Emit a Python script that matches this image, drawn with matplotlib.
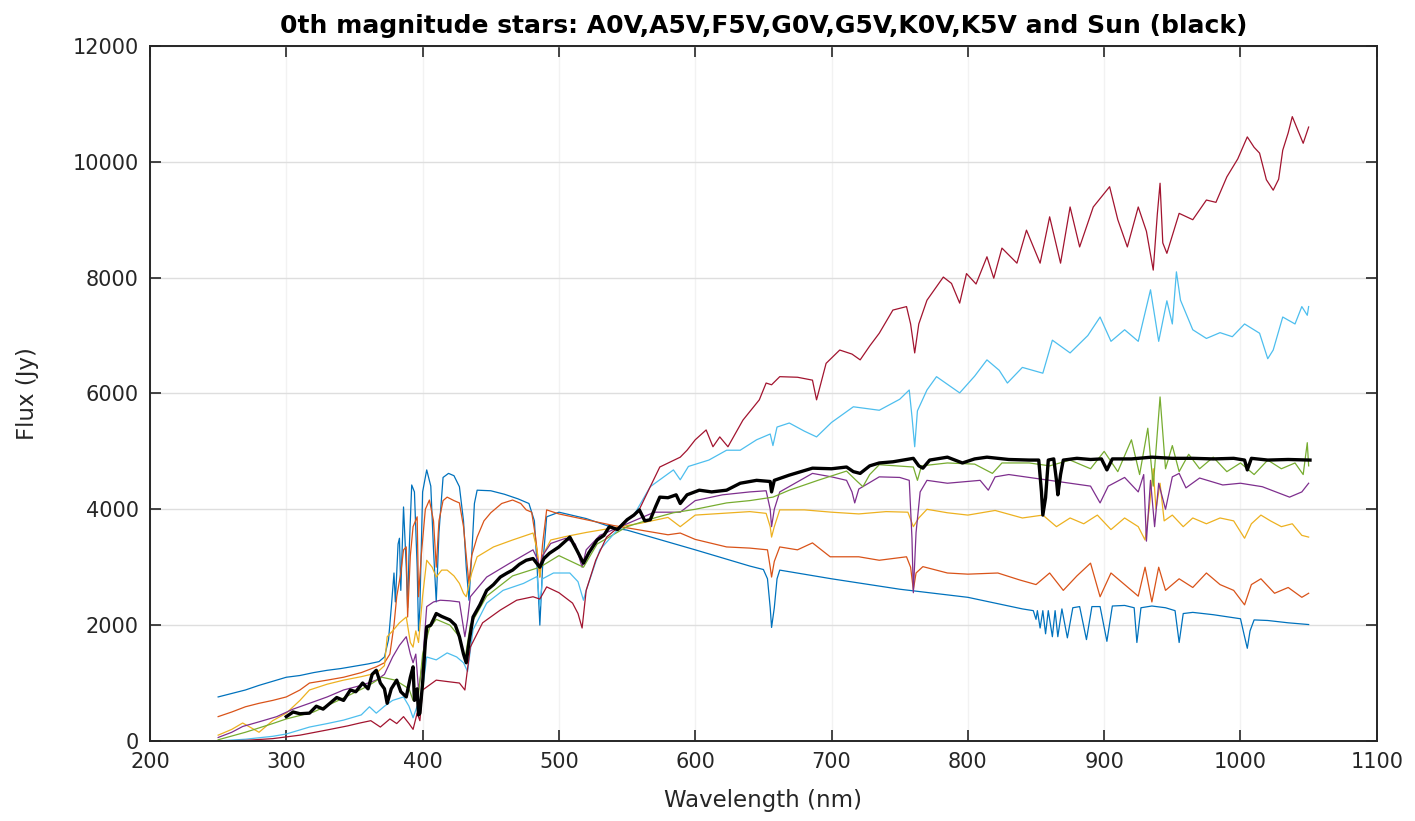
"""
0th magnitude stellar spectra (A0V ... K5V) compared with the Sun
"""

import matplotlib
matplotlib.use('Agg')
import matplotlib.pyplot as plt

plt.rcParams['font.family'] = ['DejaVu Sans']

# ---- data (wavelength nm, flux Jy) ----
a0v_wl = [250, 260, 270, 280, 290, 300, 310, 320, 330, 340, 350, 360, 368, 372, 375, 377, 379, 380, 382, 383,
          384, 386, 388, 389, 390, 392, 394, 396, 397, 398, 400, 403, 406, 408, 410, 412, 415, 419, 423, 427,
          430, 432, 434, 436, 438, 440, 450, 460, 470, 478, 482, 484, 486, 488, 491, 500, 520, 540, 550, 600,
          640, 650, 653, 655, 656, 658, 660, 662, 700, 750, 800, 840, 848, 850, 851, 853, 855, 857, 859, 862,
          864, 866, 869, 873, 877, 882, 887, 891, 897, 902, 906, 915, 922, 924, 927, 935, 945, 952, 955, 958,
          965, 980, 1000, 1003, 1005, 1007, 1010, 1020, 1035, 1050]
a0v_flux = [760, 820, 880, 960, 1030, 1100, 1130, 1180, 1220, 1250, 1290, 1330, 1370, 1450, 1750, 2300, 2900, 2400, 3400, 3500,
            2600, 4040, 3000, 2300, 3200, 4420, 4300, 3000, 1900, 2300, 4300, 4680, 4400, 3300, 2400, 3600, 4550, 4620, 4580, 4390,
            3800, 3000, 2430, 3200, 4100, 4330, 4320, 4260, 4180, 4100, 3800, 3000, 2000, 3000, 3870, 3950, 3840, 3680, 3640, 3300,
            3020, 2960, 2800, 2300, 1960, 2300, 2800, 2950, 2800, 2620, 2480, 2280, 2250, 2100, 2250, 1950, 2250, 1850, 2250, 1800,
            2250, 1800, 2280, 1780, 2300, 2320, 1750, 2320, 2320, 1720, 2330, 2340, 2300, 1700, 2300, 2330, 2300, 2250, 1700, 2200,
            2220, 2180, 2110, 1800, 1600, 1900, 2090, 2080, 2040, 2010]

a5v_wl = [250, 260, 270, 280, 290, 300, 310, 317, 330, 342, 355, 366, 372, 376, 379, 381, 384, 386, 388, 389,
          391, 393, 396, 397, 399, 402, 405, 408, 410, 412, 415, 418, 423, 427, 430, 432, 434, 436, 440, 445,
          450, 458, 466, 472, 476, 480, 483, 486, 488, 491, 500, 520, 540, 560, 580, 589, 600, 623, 640, 653,
          655, 656, 658, 662, 675, 686, 699, 720, 735, 755, 758, 760, 762, 767, 785, 800, 822, 838, 850, 860,
          870, 880, 890, 897, 905, 915, 925, 930, 935, 940, 945, 955, 965, 975, 985, 995, 1003, 1008, 1015, 1025,
          1035, 1045, 1050]
a5v_flux = [420, 500, 590, 650, 700, 760, 880, 1000, 1050, 1100, 1180, 1280, 1350, 1500, 2000, 2490, 2900, 3300, 3350, 2140,
            3200, 3700, 3870, 2490, 3200, 4000, 4160, 3800, 3000, 3800, 4150, 4210, 4150, 4110, 3700, 3200, 2720, 3200, 3520, 3800,
            3940, 4100, 4160, 4100, 3990, 3950, 3500, 2830, 3400, 3990, 3920, 3820, 3720, 3640, 3560, 3590, 3480, 3350, 3330, 3300,
            3000, 2830, 3100, 3350, 3300, 3420, 3180, 3180, 3120, 3180, 3000, 2610, 2900, 3010, 2900, 2880, 2900, 2780, 2700, 2900,
            2600, 2850, 3070, 2490, 2900, 2700, 2500, 3000, 2400, 3000, 2600, 2800, 2650, 2900, 2700, 2600, 2350, 2700, 2800, 2550,
            2650, 2480, 2550]

f5v_wl = [250, 260, 268, 280, 290, 300, 310, 317, 330, 342, 355, 366, 372, 374, 378, 383, 388, 391, 393, 395,
          397, 400, 403, 407, 410, 414, 418, 423, 427, 430, 432, 436, 440, 452, 466, 481, 484, 486, 488, 494,
          505, 520, 540, 560, 580, 589, 600, 620, 640, 652, 655, 656, 658, 662, 680, 700, 720, 740, 756, 760,
          764, 770, 785, 800, 820, 840, 855, 865, 875, 885, 895, 905, 915, 925, 930, 933, 936, 938, 941, 944,
          950, 958, 965, 975, 985, 995, 1003, 1008, 1015, 1022, 1030, 1038, 1045, 1050]
f5v_flux = [100, 200, 310, 150, 350, 480, 700, 880, 980, 1050, 1110, 1170, 1300, 1800, 1900, 2040, 2140, 1700, 1620, 1900,
            1700, 2500, 3120, 3000, 2830, 2950, 2950, 2850, 2720, 2550, 2490, 2900, 3180, 3350, 3470, 3590, 3300, 2830, 3200, 3470,
            3530, 3600, 3680, 3760, 3860, 3700, 3900, 3930, 3960, 3930, 3700, 3520, 3700, 3990, 3990, 3950, 3920, 3960, 3950, 3700,
            3850, 4000, 3940, 3900, 3980, 3850, 3900, 3700, 3850, 3750, 3900, 3650, 3850, 3700, 3470, 4000, 4700, 4000, 4450, 3800,
            3900, 3700, 3850, 3750, 3850, 3800, 3500, 3750, 3900, 3800, 3700, 3750, 3550, 3520]

g0v_wl = [250, 260, 268, 280, 293, 305, 317, 330, 342, 355, 366, 372, 378, 383, 388, 391, 393, 395, 397, 400,
          403, 408, 413, 420, 427, 429, 431, 433, 435, 447, 464, 481, 484, 486, 488, 494, 505, 512, 517, 520,
          530, 550, 570, 589, 600, 620, 640, 652, 655, 656, 658, 662, 686, 700, 711, 715, 717, 720, 735, 750,
          757, 759, 760, 762, 765, 770, 785, 809, 815, 820, 830, 845, 860, 875, 890, 897, 903, 915, 925, 929,
          931, 934, 937, 940, 945, 950, 955, 960, 970, 987, 1000, 1016, 1036, 1045, 1050]
g0v_flux = [60, 150, 250, 330, 420, 550, 650, 760, 880, 960, 1050, 1150, 1450, 1650, 1800, 1500, 1350, 1500, 880, 1350,
            2320, 2400, 2430, 2420, 2400, 2100, 1800, 2100, 2490, 2830, 3070, 3300, 3150, 3010, 3200, 3410, 3500, 3400, 3000, 3300,
            3550, 3750, 3950, 3950, 4150, 4250, 4300, 4320, 4000, 3700, 4000, 4300, 4620, 4560, 4500, 4300, 4110, 4350, 4560, 4550,
            4500, 3500, 2560, 3600, 4300, 4500, 4450, 4500, 4330, 4560, 4600, 4550, 4500, 4450, 4400, 4110, 4400, 4550, 4300, 4600,
            3450, 4500, 3700, 4450, 4000, 4560, 4620, 4370, 4540, 4420, 4450, 4390, 4210, 4300, 4450]

g5v_wl = [250, 270, 290, 300, 320, 340, 360, 370, 380, 390, 393, 397, 400, 405, 410, 420, 427, 431, 435, 447,
          466, 486, 500, 518, 528, 550, 570, 584, 600, 623, 640, 657, 669, 690, 711, 718, 723, 728, 735, 760,
          763, 766, 785, 805, 818, 825, 845, 860, 875, 890, 900, 910, 920, 926, 932, 936, 941, 945, 950, 955,
          962, 970, 980, 990, 1000, 1010, 1020, 1030, 1040, 1046, 1049, 1050]
g5v_flux = [20, 150, 300, 380, 500, 720, 950, 1100, 1050, 900, 700, 800, 1500, 1950, 2100, 2000, 1800, 1400, 2000, 2500,
            2850, 3000, 3200, 3000, 3400, 3700, 3850, 3940, 4000, 4110, 4150, 4210, 4330, 4500, 4660, 4500, 4390, 4600, 4770, 4730,
            4500, 4750, 4800, 4780, 4620, 4800, 4800, 4750, 4850, 4700, 5000, 4650, 5200, 4600, 5400, 4400, 5940, 4700, 5100, 4650,
            4950, 4700, 4900, 4650, 4800, 4600, 4850, 4700, 4800, 4600, 5150, 4750]

k0v_wl = [250, 270, 290, 300, 317, 330, 342, 355, 361, 366, 372, 378, 386, 390, 393, 396, 398, 400, 403, 410,
          418, 425, 430, 433, 437, 447, 459, 474, 484, 486, 488, 496, 508, 514, 518, 520, 530, 545, 555, 567,
          584, 589, 595, 610, 623, 633, 645, 655, 657, 660, 669, 680, 689, 700, 716, 735, 750, 757, 759, 761,
          763, 770, 777, 794, 805, 814, 823, 829, 840, 855, 862, 875, 888, 897, 905, 915, 925, 934, 940, 946,
          950, 953, 956, 965, 975, 985, 994, 1003, 1014, 1020, 1024, 1031, 1040, 1045, 1049, 1050]
k0v_flux = [0, 30, 80, 120, 240, 300, 360, 450, 590, 480, 600, 700, 760, 600, 400, 600, 450, 900, 1450, 1400,
            1520, 1450, 1350, 1200, 1920, 2380, 2600, 2720, 2840, 2330, 2800, 2900, 2900, 2750, 2430, 2600, 3300, 3700, 3900, 4390,
            4680, 4510, 4740, 4850, 5020, 5020, 5200, 5300, 5100, 5420, 5490, 5350, 5250, 5500, 5770, 5710, 5900, 6060, 5600, 5080,
            5700, 6060, 6290, 6010, 6300, 6580, 6400, 6180, 6450, 6350, 6920, 6700, 7000, 7320, 6900, 7100, 6900, 7790, 6900, 7600,
            7200, 8100, 7610, 7100, 6950, 7050, 6980, 7200, 7040, 6600, 6750, 7320, 7200, 7500, 7350, 7500]

k5v_wl = [250, 270, 290, 310, 330, 345, 354, 362, 369, 376, 381, 386, 390, 393, 396, 398, 400, 410, 420, 427,
          431, 435, 444, 457, 469, 481, 486, 491, 500, 510, 514, 517, 520, 527, 535, 550, 558, 567, 574, 589,
          594, 600, 608, 613, 618, 624, 635, 647, 652, 656, 662, 675, 686, 689, 696, 706, 715, 721, 728, 735,
          745, 755, 758, 761, 764, 770, 782, 788, 794, 799, 806, 814, 819, 825, 836, 843, 853, 860, 868, 875,
          882, 892, 904, 910, 917, 925, 931, 936, 939, 941, 943, 946, 955, 965, 975, 982, 990, 998, 1005, 1010,
          1014, 1019, 1024, 1028, 1031, 1035, 1038, 1042, 1046, 1050]
k5v_flux = [0, 10, 40, 100, 190, 260, 310, 350, 240, 380, 300, 420, 300, 200, 480, 350, 880, 1050, 1020, 1000,
            880, 1620, 2040, 2260, 2430, 2490, 2450, 2660, 2560, 2380, 2200, 1950, 2600, 3120, 3520, 3820, 3950, 4390, 4730, 4900,
            5020, 5200, 5370, 5080, 5250, 5080, 5540, 5890, 6180, 6150, 6290, 6280, 6230, 5890, 6520, 6750, 6680, 6580, 6820, 7040,
            7440, 7500, 7200, 6700, 7200, 7610, 8010, 7900, 7560, 8070, 7890, 8360, 7990, 8510, 8250, 8820, 8250, 9050, 8250, 9220,
            8530, 9220, 9570, 9000, 8530, 9220, 8800, 8130, 9100, 9630, 8600, 8420, 9110, 9000, 9340, 9300, 9740, 10050, 10430, 10250,
            10150, 9690, 9510, 9700, 10200, 10500, 10780, 10550, 10320, 10600]

sun_wl = [300, 305, 310, 317, 322, 327, 332, 337, 342, 347, 351, 356, 360, 363, 366, 369, 372, 374, 377, 381,
          384, 388, 391, 393, 394, 396, 397, 398, 400, 402, 403, 406, 410, 414, 420, 424, 427, 430, 432, 434,
          437, 442, 447, 452, 457, 462, 466, 471, 476, 481, 486, 489, 493, 500, 508, 513, 518, 522, 528, 533,
          537, 543, 550, 555, 559, 563, 567, 571, 574, 580, 586, 589, 594, 603, 612, 623, 633, 645, 655, 656,
          658, 669, 686, 700, 711, 716, 721, 728, 735, 745, 760, 764, 767, 772, 785, 796, 805, 814, 830, 845,
          852, 854, 855, 857, 859, 863, 865, 866, 868, 870, 880, 890, 898, 902, 906, 920, 935, 950, 965, 980,
          995, 1003, 1005, 1008, 1020, 1035, 1051]
sun_flux = [420, 500, 470, 480, 600, 550, 650, 750, 700, 880, 850, 1000, 900, 1150, 1220, 1000, 900, 650, 900, 1050,
            850, 760, 1100, 1280, 700, 900, 450, 480, 1000, 1700, 1970, 2000, 2200, 2150, 2090, 2000, 1800, 1500, 1350, 1700,
            2140, 2350, 2600, 2700, 2830, 2900, 2950, 3050, 3120, 3150, 3000, 3150, 3240, 3350, 3520, 3300, 3070, 3250, 3470, 3550,
            3700, 3650, 3820, 3900, 3990, 3800, 3820, 4050, 4210, 4200, 4250, 4100, 4250, 4330, 4300, 4330, 4450, 4500, 4480, 4300,
            4500, 4590, 4710, 4700, 4730, 4650, 4620, 4750, 4800, 4820, 4880, 4750, 4710, 4850, 4900, 4800, 4870, 4900, 4860, 4850,
            4850, 4300, 3900, 4200, 4850, 4870, 4500, 4250, 4600, 4850, 4880, 4860, 4870, 4680, 4870, 4870, 4900, 4880, 4880, 4870,
            4880, 4850, 4680, 4880, 4850, 4860, 4850]

# MATLAB default colour order
colors = ['#0072BD', '#D95319', '#EDB120', '#7E2F8E', '#77AC30', '#4DBEEE', '#A2142F']
star_series = [(a0v_wl, a0v_flux), (a5v_wl, a5v_flux), (f5v_wl, f5v_flux), (g0v_wl, g0v_flux),
               (g5v_wl, g5v_flux), (k0v_wl, k0v_flux), (k5v_wl, k5v_flux)]

fig = plt.figure(figsize=(14.15, 8.21), dpi=100)
ax = fig.add_axes([0.106, 0.0975, 0.867, 0.8465])

for (wl, flux), c in zip(star_series, colors):
    ax.plot(wl, flux, color=c, linewidth=0.9)
# Sun on top, thick black
ax.plot(sun_wl, sun_flux, color='black', linewidth=2.4)

ax.set_xlim(200, 1100)
ax.set_ylim(0, 12000)
ax.set_xticks(range(200, 1101, 100))
ax.set_yticks(range(0, 12001, 2000))

# horizontal grid clearly visible, vertical grid very faint
ax.yaxis.grid(True, color='#dedede', linewidth=1.0)
ax.xaxis.grid(True, color='#f2f2f2', linewidth=1.0)
ax.set_axisbelow(True)
ax.tick_params(direction='in', length=8, width=1.2, top=True, right=True,
               labelsize=15, colors='#262626', pad=8)
for sp in ax.spines.values():
    sp.set_linewidth(1.4)
    sp.set_color('#262626')

ax.set_title('0th magnitude stars: A0V,A5V,F5V,G0V,G5V,K0V,K5V and Sun (black)',
             fontsize=18, fontweight='bold', pad=9)
ax.set_xlabel('Wavelength (nm)', fontsize=16.5, color='#262626', labelpad=12)
ax.set_ylabel('Flux (Jy)', fontsize=16.5, color='#262626', labelpad=24)

plt.savefig('out.png', dpi=100)
